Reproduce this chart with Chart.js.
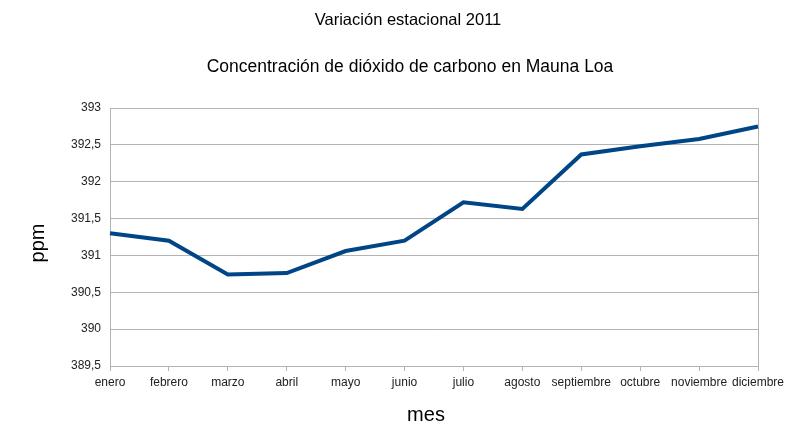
<!DOCTYPE html>
<html>
<head>
<meta charset="utf-8">
<script src="https://cdn.jsdelivr.net/npm/chart.js@4/dist/chart.umd.min.js"></script>
<style>
  html, body { margin: 0; padding: 0; background: #fff; }
  #wrap { width: 800px; height: 443px; }
</style>
</head>
<body>
<div id="wrap"><canvas id="grafico" width="800" height="443"></canvas></div>
<script>
const meses = ["enero", "febrero", "marzo", "abril", "mayo", "junio", "julio",
  "agosto", "septiembre", "octubre", "noviembre", "diciembre"];
const ppm = [391.30, 391.20, 390.74, 390.76, 391.06, 391.20, 391.72,
  391.63, 392.37, 392.48, 392.58, 392.75];
const yMin = 389.5, yMax = 393, yPaso = 0.5;

const titulo = "Variación estacional 2011";
const subtitulo = "Concentración de dióxido de carbono en Mauna Loa";
const tituloX = "mes";
const tituloY = "ppm";

const gris = "#b3b3b3";
const fuente = "'Liberation Sans', Arial, sans-serif";

// títulos centrados en la página, como en el original (no en el área del gráfico)
const titulos = {
  id: "titulos",
  afterDraw(chart) {
    const c = chart.ctx;
    c.save();
    c.fillStyle = "#000";
    c.textAlign = "center";
    c.textBaseline = "middle";
    c.font = "16.5px " + fuente;
    c.fillText(titulo, 408, 20);
    c.font = "17.5px " + fuente;
    c.fillText(subtitulo, 410, 67);
    c.font = "20px " + fuente;
    c.fillText(tituloX, 426, 415);
    c.translate(38, 243);
    c.rotate(-Math.PI / 2);
    c.fillText(tituloY, 0, 0);
    c.restore();
  }
};

const ctx = document.getElementById("grafico").getContext("2d");
new Chart(ctx, {
  type: "line",
  data: {
    labels: meses,
    datasets: [{
      label: "ppm",
      data: ppm,
      borderColor: "#004586",
      borderWidth: 4,
      pointRadius: 0,
      tension: 0,
      fill: false
    }]
  },
  plugins: [titulos],
  options: {
    responsive: false,
    animation: false,
    layout: { padding: { left: 0, right: 42, top: 108, bottom: 0 } },
    plugins: {
      legend: { display: false },
      tooltip: { enabled: false },
      title: { display: false }
    },
    scales: {
      x: {
        grid: {
          color: (c) => c.index === meses.length - 1 ? gris : "transparent",
          tickColor: gris,
          tickLength: 5,
          drawOnChartArea: true
        },
        border: { color: gris },
        ticks: {
          color: "#222",
          font: { family: fuente, size: 12 },
          padding: 4,
          maxRotation: 0,
          autoSkip: false
        },
        afterFit: (s) => { s.height = 77; }
      },
      y: {
        min: yMin,
        max: yMax,
        grid: { color: gris, drawTicks: false },
        border: { color: gris },
        ticks: {
          stepSize: yPaso,
          color: "#222",
          font: { family: fuente, size: 12 },
          padding: 9,
          callback: (v) => String(v).replace(".", ",")
        },
        afterFit: (s) => { s.width = 110; }
      }
    }
  }
});
</script>
</body>
</html>
